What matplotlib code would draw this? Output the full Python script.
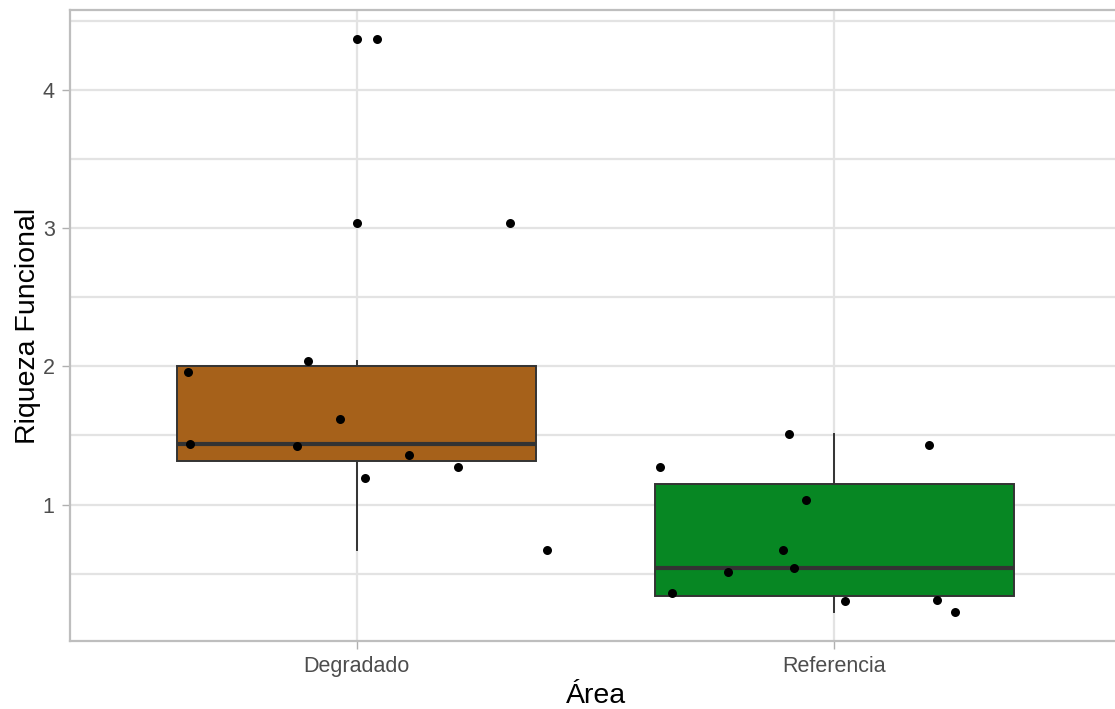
import numpy as np
import matplotlib
matplotlib.use("Agg")
import matplotlib.pyplot as plt
from matplotlib.ticker import MultipleLocator

plt.rcParams['font.family'] = ['Liberation Sans', 'DejaVu Sans']

areas = ["Degradado", "Referencia"]
fills = ["#A6611A", "#078723"]

# functional richness per sample
degradado = [4.37, 3.04, 2.04, 1.96, 1.62, 1.44, 1.42, 1.36, 1.27, 1.19, 0.67]
referencia = [1.51, 1.43, 1.27, 1.03, 0.67, 0.54, 0.51, 0.36, 0.31, 0.30, 0.22]

# horizontal jitter applied to each sample
degradado_jitter = [0.042, 0.321, -0.101, -0.352, -0.034, -0.348, -0.124, 0.109, 0.212, 0.017, 0.398]
referencia_jitter = [-0.096, 0.199, -0.365, -0.059, -0.108, -0.085, -0.222, -0.340, 0.214, 0.022, 0.252]

fig = plt.figure(figsize=(11.15, 7.09), dpi=100)
ax = fig.add_axes([70 / 1115, 1 - 641 / 709, 1051 / 1115, 631 / 709])

groups = [degradado, referencia]
bp = ax.boxplot(groups, positions=[1, 2], widths=0.75, patch_artist=True,
                whis=1.5, zorder=2,
                boxprops=dict(edgecolor="#333333", linewidth=1.4),
                medianprops=dict(color="#333333", linewidth=3),
                whiskerprops=dict(color="#333333", linewidth=1.4),
                capprops=dict(linewidth=0),
                flierprops=dict(marker="o", markerfacecolor="black",
                                markeredgewidth=0, markersize=6.5))
for patch, col in zip(bp["boxes"], fills):
    patch.set_facecolor(col)

for i, (vals, jit) in enumerate(zip(groups, [degradado_jitter, referencia_jitter])):
    xs = np.array(jit) + (i + 1)
    ax.scatter(xs, vals, s=42, color="black", zorder=4, linewidths=0)

allv = np.concatenate(groups)
pad = 0.05 * (allv.max() - allv.min())
ax.set_ylim(allv.min() - pad, allv.max() + pad)
ax.set_xlim(0.4, 2.6)

ax.set_xticks([1, 2])
ax.set_xticklabels(areas)
ax.yaxis.set_major_locator(MultipleLocator(1))
ax.yaxis.set_minor_locator(MultipleLocator(0.5))
ax.grid(True, which="major", color="#E3E3E3", linewidth=1.6, zorder=0)
ax.grid(True, which="minor", axis="y", color="#E3E3E3", linewidth=1.6, zorder=0)
ax.set_axisbelow(True)

ax.tick_params(axis="both", which="major", length=6, width=1, color="#B0B0B0",
               labelsize=15.5, labelcolor="#4D4D4D", pad=5)
ax.tick_params(axis="y", which="minor", length=0)
for s in ax.spines.values():
    s.set_color("#BEBEBE")
    s.set_linewidth(1.6)

ax.set_xlabel("Área", fontsize=20.5, labelpad=4)
ax.set_ylabel("Riqueza Funcional", fontsize=20.5, labelpad=1)

fig.savefig("out.png", dpi=100)
